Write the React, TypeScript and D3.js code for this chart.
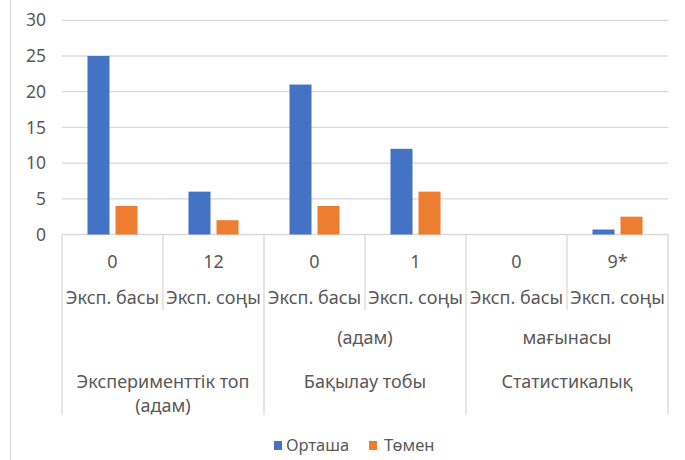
import * as d3 from "d3";

const categories = ["c1", "c2", "c3", "c4", "c5", "c6"];
const valueLabels = ["0", "12", "0", "1", "0", "9*"];
const stageLabels = ["Эксп. басы", "Эксп. соңы", "Эксп. басы", "Эксп. соңы", "Эксп. басы", "Эксп. соңы"];
const groupLabels = [
  { from: 0, lines: [null, "Эксперименттік топ", "(адам)"] },
  { from: 2, lines: ["(адам)", "Бақылау тобы", null] },
  { from: 4, lines: ["мағынасы", "Статистикалық", null] },
];
const seriesNames = ["Орташа", "Төмен"];
const ortasha = [25, 6, 21, 12, 0, 0.7];
const tomen = [4, 2, 4, 6, 0, 2.5];
const yTicks = [0, 5, 10, 15, 20, 25, 30];

const colors = ["#4472C4", "#ED7D31"];
const grid = "#d9d9d9";
const textColor = "#595959";
const font = "'Noto Sans', sans-serif";

export default function App() {
  const width = 685;
  const height = 460;
  const left = 62;
  const right = 668;
  const top = 20.3;
  const bottom = 234.5;

  const x = d3.scaleBand<string>().domain(categories).range([left, right]).padding(0);
  const xInner = d3
    .scaleBand<string>()
    .domain(seriesNames)
    .range([0, x.bandwidth()])
    .paddingInner(0.214)
    .paddingOuter(0.91);
  const y = d3.scaleLinear().domain([0, 30]).range([bottom, top]);

  const series = [ortasha, tomen];

  return (
    <svg
      width={width}
      height={height}
      style={{ position: "absolute", left: 0, top: 0, background: "#fff" }}
      fontFamily={font}
    >
      <line x1={10.5} x2={10.5} y1={0} y2={height} stroke={grid} />
      {/* grid */}
      {yTicks.map((t) => (
        <g key={t}>
          <line x1={left} x2={right} y1={y(t)} y2={y(t)} stroke={grid} strokeWidth={1.3} />
          <text x={46} y={y(t)} dy="0.35em" textAnchor="end" fontSize={17.5} fill={textColor}>
            {t}
          </text>
        </g>
      ))}
      {/* bars */}
      {series.map((vals, si) =>
        vals.map((v, i) => (
          <rect
            key={si + "-" + i}
            x={(x(categories[i]) ?? 0) + (xInner(seriesNames[si]) ?? 0)}
            y={y(v)}
            width={xInner.bandwidth()}
            height={bottom - y(v)}
            fill={colors[si]}
          />
        ))
      )}
      {/* category axis */}
      {categories.map((c, i) => {
        const x0 = x(c) ?? 0;
        const major = i % 2 === 0;
        return (
          <line
            key={"t" + i}
            x1={x0}
            x2={x0}
            y1={bottom}
            y2={major ? 415 : 310}
            stroke={grid}
            strokeWidth={1.3}
          />
        );
      })}
      <line x1={right} x2={right} y1={bottom} y2={415} stroke={grid} strokeWidth={1.3} />
      {categories.map((c, i) => {
        const cx = (x(c) ?? 0) + x.bandwidth() / 2;
        return (
          <g key={"l" + i} fontSize={18} fill={textColor} textAnchor="middle">
            <text x={cx} y={262} dy="0.35em">{valueLabels[i]}</text>
            <text x={cx} y={298} dy="0.35em">{stageLabels[i]}</text>
          </g>
        );
      })}
      {groupLabels.map((g, gi) => {
        const cx = (x(categories[g.from]) ?? 0) + x.bandwidth();
        const rows = [338, 382, 406];
        return (
          <g key={"g" + gi} fontSize={18} fill={textColor} textAnchor="middle">
            {g.lines.map((s, li) =>
              s ? (
                <text key={li} x={cx} y={rows[li]} dy="0.35em">
                  {s}
                </text>
              ) : null
            )}
          </g>
        );
      })}
      {/* legend */}
      <g fontSize={16.5} fill={textColor}>
        <rect x={274} y={441} width={8} height={9} fill={colors[0]} />
        <text x={286} y={445} dy="0.35em">{seriesNames[0]}</text>
        <rect x={369} y={441} width={8} height={9} fill={colors[1]} />
        <text x={384} y={445} dy="0.35em">{seriesNames[1]}</text>
      </g>
    </svg>
  );
}
